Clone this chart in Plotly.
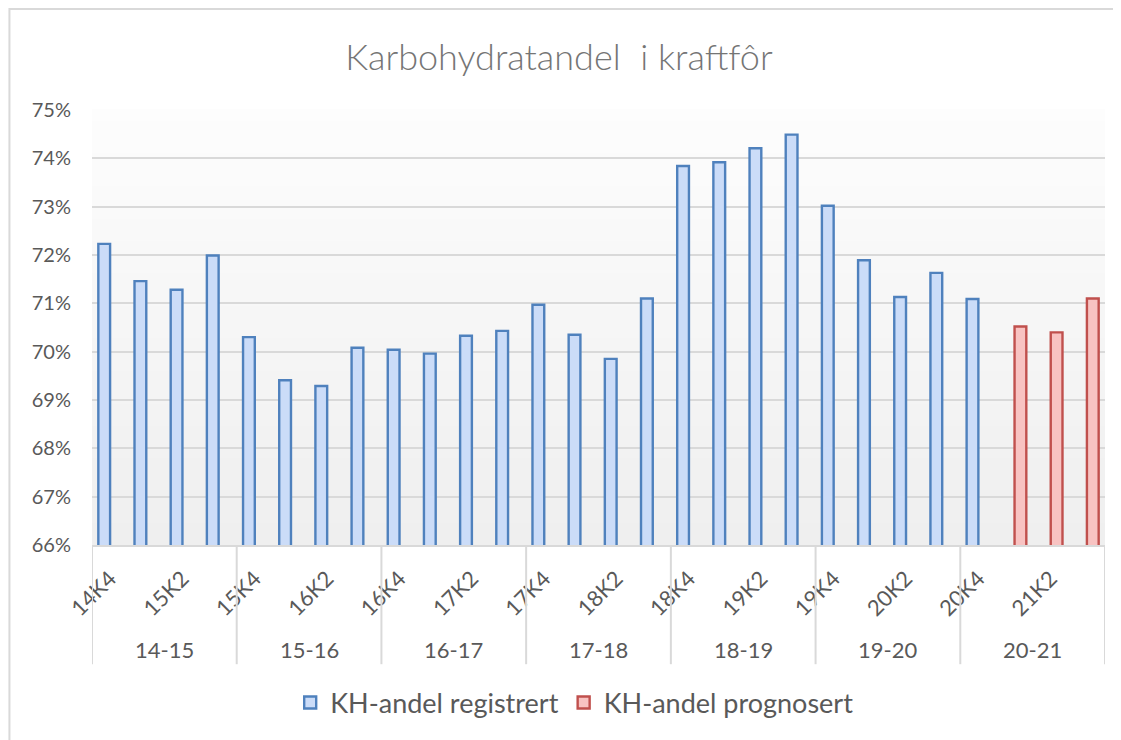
import plotly.graph_objects as go

quarters = ["14K4", "15K1", "15K2", "15K3",
            "15K4", "16K1", "16K2", "16K3",
            "16K4", "17K1", "17K2", "17K3",
            "17K4", "18K1", "18K2", "18K3",
            "18K4", "19K1", "19K2", "19K3",
            "19K4", "20K1", "20K2", "20K3",
            "20K4", "21K1", "21K2", "21K3"]
seasons = ["14-15", "15-16", "16-17", "17-18", "18-19", "19-20", "20-21"]

registrert = [72.23, 71.46, 71.28, 71.99,
              70.30, 69.41, 69.29, 70.08,
              70.04, 69.96, 70.33, 70.43,
              70.97, 70.35, 69.85, 71.10,
              73.84, 73.92, 74.21, 74.49,
              73.02, 71.89, 71.13, 71.63,
              71.09, None, None, None]
prognosert = [None] * 25 + [70.52, 70.40, 71.10]

FONT = "Lato"
GREY = "#595959"

fig = go.Figure()
fig.add_trace(go.Bar(
    x=quarters, y=registrert, name="KH-andel registrert",
    marker=dict(color="#cbdcf8", line=dict(color="#4f81bd", width=2.4)),
))
fig.add_trace(go.Bar(
    x=quarters, y=prognosert, name="KH-andel prognosert",
    marker=dict(color="#f8c3c2", line=dict(color="#c0504d", width=2.4)),
))

shapes = []
# plot-area gradient background (white -> light grey)
n = 40
for i in range(n):
    t = i / n
    g = int(round(253 - 14 * (1 - t)))
    shapes.append(dict(type="rect", xref="paper", yref="paper",
                       x0=0, x1=1, y0=t, y1=t + 1 / n + 0.002,
                       fillcolor=f"rgb({g},{g},{g})", line=dict(width=0),
                       layer="below"))
# group dividers under the category axis
for k in range(len(seasons) + 1):
    shapes.append(dict(type="line", xref="x", yref="paper",
                       x0=4 * k - 0.5, x1=4 * k - 0.5, y0=0, y1=-0.274,
                       line=dict(color="#d9d9d9", width=2)))
# outer chart border
shapes.append(dict(type="rect", xref="paper", yref="paper",
                   x0=-0.0815, x1=1.2, y0=1.232, y1=-1.0,
                   line=dict(color="#d9d9d9", width=2), fillcolor="rgba(0,0,0,0)"))

annotations = []
for k, s in enumerate(seasons):
    annotations.append(dict(x=4 * k + 1.5, xref="x", y=-0.241, yref="paper",
                            text=s, showarrow=False, yanchor="middle",
                            font=dict(family=FONT, size=22, color=GREY)))

fig.update_layout(
    width=1113, height=732,
    margin=dict(l=84, r=16, t=102, b=195, autoexpand=False),
    paper_bgcolor="white",
    plot_bgcolor="rgba(0,0,0,0)",
    barmode="group",
    bargap=0.35,
    bargroupgap=0,
    title=dict(text="Karbohydratandel \u00a0i kraftfôr", x=(559 - 8) / 1113, xanchor="center",
               y=1 - (57 - 8) / 732, yanchor="middle", yref="container",
               font=dict(family=FONT, size=36, color="#757575", weight=300)),
    xaxis=dict(type="category", categoryorder="array", categoryarray=quarters,
               range=[-0.5, 27.5], automargin=False,
               tickmode="array", tickvals=quarters[::2], ticktext=quarters[::2],
               tickangle=-45, showgrid=False, ticks="", ticklabelstandoff=10,
               showline=True, linecolor="#d9d9d9", linewidth=2,
               tickfont=dict(family=FONT, size=22, color=GREY)),
    yaxis=dict(range=[66, 75], dtick=1, tick0=66, ticksuffix="%", automargin=False,
               showgrid=True, gridcolor="#d9d9d9", gridwidth=2,
               zeroline=False, showline=False, ticks="", ticklabelstandoff=20,
               tickfont=dict(family=FONT, size=20, color=GREY)),
    legend=dict(orientation="h", x=0.476, xanchor="center", y=-0.363, yanchor="middle",
                font=dict(family=FONT, size=27, color=GREY), itemwidth=30,
                bgcolor="rgba(0,0,0,0)"),
    shapes=shapes,
    annotations=annotations,
)

fig.write_html("out.html")
